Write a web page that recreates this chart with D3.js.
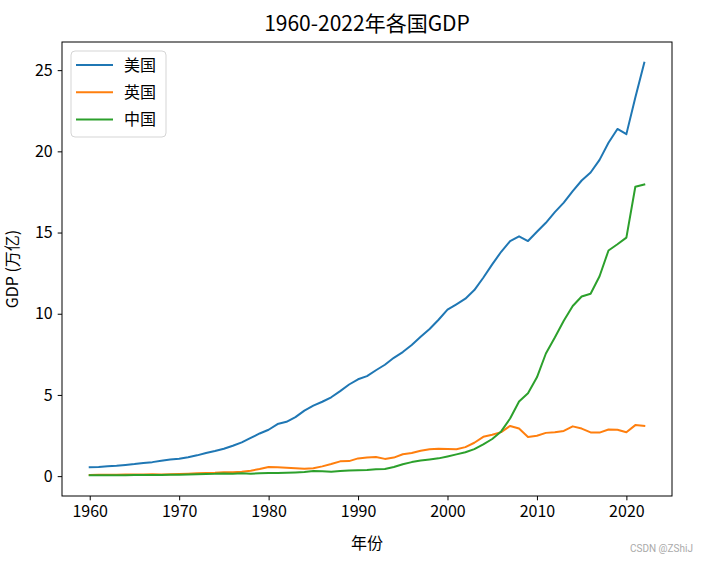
<!DOCTYPE html>
<html><head><meta charset="utf-8">
<script src="https://cdn.jsdelivr.net/npm/d3@7"></script>
<style>
html,body{margin:0;padding:0;background:#fff;}
svg text{font-family:"Noto Sans CJK SC","Noto Sans",sans-serif;}
</style></head>
<body><svg id="chart" width="706" height="562"></svg>
<script>
const years = d3.range(1960, 2023);
const usGDP = [0.543,0.563,0.605,0.638,0.686,0.744,0.815,0.862,0.942,1.020,
1.073,1.165,1.280,1.425,1.545,1.684,1.873,2.082,2.352,2.627,
2.857,3.207,3.343,3.634,4.037,4.339,4.580,4.855,5.236,5.642,
5.963,6.158,6.520,6.859,7.287,7.640,8.073,8.578,9.063,9.631,
10.251,10.582,10.929,11.457,12.217,13.039,13.816,14.474,14.770,14.478,
15.049,15.600,16.254,16.843,17.551,18.206,18.695,19.477,20.533,21.381,
21.060,23.315,25.463];
const ukGDP = [0.0734,0.0777,0.0812,0.0865,0.0944,0.1016,0.1080,0.1113,0.1049,0.1122,
0.1308,0.1481,0.1697,0.1929,0.2064,0.2413,0.2329,0.2633,0.3358,0.4384,
0.5641,0.5401,0.5150,0.4895,0.4614,0.4893,0.6014,0.7456,0.9103,0.9262,
1.0930,1.1423,1.1793,1.0613,1.1403,1.3441,1.4192,1.5603,1.6527,1.6871,
1.6656,1.6497,1.7851,2.0542,2.4214,2.5433,2.7081,3.0908,2.9299,2.4126,
2.4853,2.6636,2.7073,2.7848,3.0642,2.9278,2.6941,2.6804,2.8711,2.8513,
2.6976,3.1412,3.0891];
const cnGDP = [0.0597,0.0500,0.0472,0.0507,0.0594,0.0704,0.0767,0.0729,0.0709,0.0794,
0.0926,0.0996,0.1137,0.1385,0.1442,0.1630,0.1539,0.1749,0.1495,0.1783,
0.1911,0.1956,0.2091,0.2309,0.2599,0.3094,0.3008,0.2729,0.3123,0.3478,
0.3609,0.3834,0.4269,0.4447,0.5643,0.7345,0.8637,0.9615,1.0290,1.0940,
1.2113,1.3394,1.4706,1.6603,1.9553,2.2860,2.7521,3.5500,4.5944,5.1017,
6.0872,7.5515,8.5323,9.5704,10.4757,11.0616,11.2333,12.3104,13.8948,14.2800,
14.6877,17.8203,17.9632];
const seriesNames = ["美国","英国","中国"];
const seriesColors = ["#1f77b4","#ff7f0e","#2ca02c"];
const xTicks = [1960,1970,1980,1990,2000,2010,2020];
const yTicks = [0,5,10,15,20,25];
const titleText = "1960-2022年各国GDP";
const xLabel = "年份";
const yLabel = "GDP (万亿)";
const watermark = "CSDN @ZShiJ";

const series = [usGDP, ukGDP, cnGDP];
const svg = d3.select("#chart");
const L = 62, R = 672, T = 42, B = 496;

const xMin = d3.min(years), xMax = d3.max(years);
const xPad = (xMax - xMin) * 0.05;
const allV = series.flat();
const yMin = d3.min(allV), yMax = d3.max(allV);
const yPad = (yMax - yMin) * 0.05;

const x = d3.scaleLinear().domain([xMin - xPad, xMax + xPad]).range([L, R]);
const y = d3.scaleLinear().domain([yMin - yPad, yMax + yPad]).range([B, T]);

const fs = 16;
const line = d3.line().x((d, i) => x(years[i])).y(d => y(d));

const plot = svg.append("g");
series.forEach((s, k) => {
  plot.append("path").datum(s)
    .attr("d", line)
    .attr("fill", "none")
    .attr("stroke", seriesColors[k])
    .attr("stroke-width", 2)
    .attr("stroke-linejoin", "round")
    .attr("stroke-linecap", "square");
});

// axes
const xAxis = svg.append("g").attr("transform", `translate(0,${B})`)
  .call(d3.axisBottom(x).tickValues(xTicks).tickFormat(d3.format("d")).tickSize(4.3).tickPadding(5));
const yAxis = svg.append("g").attr("transform", `translate(${L},0)`)
  .call(d3.axisLeft(y).tickValues(yTicks).tickFormat(d3.format("d")).tickSize(4.3).tickPadding(5));
[xAxis, yAxis].forEach(a => {
  a.select(".domain").remove();
  a.selectAll(".tick line").attr("stroke", "#000").attr("stroke-width", 1);
  a.selectAll(".tick text").attr("fill", "#000").style("font-size", fs + "px")
    .style("font-family", '"Noto Sans CJK SC","Noto Sans",sans-serif');
});

// frame
svg.append("rect").attr("x", L).attr("y", T).attr("width", R - L).attr("height", B - T)
  .attr("fill", "none").attr("stroke", "#000").attr("stroke-width", 1);

// title and labels
svg.append("text").attr("x", (L + R) / 2).attr("y", 31).attr("text-anchor", "middle")
  .style("font-size", "21px").text(titleText);
svg.append("text").attr("x", (L + R) / 2).attr("y", 549).attr("text-anchor", "middle")
  .style("font-size", fs + "px").text(xLabel);
svg.append("text").attr("transform", `translate(18,${(T + B) / 2}) rotate(-90)`)
  .attr("text-anchor", "middle").style("font-size", fs + "px").text(yLabel);

// legend
const lg = svg.append("g");
lg.append("rect").attr("x", 71).attr("y", 51).attr("width", 95).attr("height", 86)
  .attr("rx", 4).attr("fill", "#fff").attr("fill-opacity", 0.8)
  .attr("stroke", "#d5d5d5").attr("stroke-width", 1);
seriesNames.forEach((n, k) => {
  const yy = 65 + k * 27.2;
  lg.append("line").attr("x1", 76).attr("x2", 113).attr("y1", yy).attr("y2", yy)
    .attr("stroke", seriesColors[k]).attr("stroke-width", 2);
  lg.append("text").attr("x", 124).attr("y", yy).attr("dy", "0.35em")
    .style("font-size", fs + "px").text(n);
});

// watermark
svg.append("text").attr("x", 693).attr("y", 552).attr("text-anchor", "end")
  .attr("fill", "#aaaaaa").style("font-size", "10px").style("font-family", "Roboto, sans-serif").text(watermark);
</script></body></html>
